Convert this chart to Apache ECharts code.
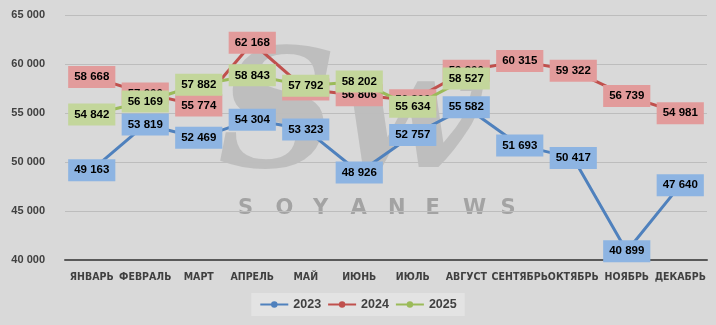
<!DOCTYPE html>
<html>
<head>
<meta charset="utf-8">
<script src="https://cdn.jsdelivr.net/npm/echarts@6/dist/echarts.min.js"></script>
<style>
html,body{margin:0;padding:0;background:#d9d9d9;}
#c{width:716px;height:325px;}
</style>
</head>
<body>
<div id="c"></div>
<script>
var months = ['ЯНВАРЬ','ФЕВРАЛЬ','МАРТ','АПРЕЛЬ','МАЙ','ИЮНЬ','ИЮЛЬ','АВГУСТ','СЕНТЯБРЬ','ОКТЯБРЬ','НОЯБРЬ','ДЕКАБРЬ'];
var y2023 = [49163, 53819, 52469, 54304, 53323, 48926, 52757, 55582, 51693, 50417, 40899, 47640];
var y2024 = [58668, 57000, 55774, 62168, 57400, 56806, 56300, 59300, 60315, 59322, 56739, 54981];
var y2025 = [54842, 56169, 57882, 58843, 57792, 58202, 55634, 58527, null, null, null, null];
var seriesNames = ['2023','2024','2025'];
var yTicks = {min: 40000, max: 65000, interval: 5000};
var watermarkLetters = ['S','O','Y','A','N','E','W','S'];

function fmt(v){ return String(v).replace(/\B(?=(\d{3})+(?!\d))/g,' '); }

var lineColors = ['#4f81bd','#c0504d','#9bbb59'];
var labelFills = ['#8db4e2','#e29b9b','#c3d69b'];
var datas = [y2023, y2024, y2025];

var chart = echarts.init(document.getElementById('c'), null, {renderer:'canvas'});
var series = datas.map(function(d,i){
  return {
    name: seriesNames[i],
    type: 'line',
    data: d,
    symbol: 'circle',
    symbolSize: 13,
    connectNulls: false,
    lineStyle: {color: lineColors[i], width: 3},
    itemStyle: {color: lineColors[i]},
    z: 2 + i,
    label: {
      show: true,
      position: 'inside',
      formatter: function(p){ return fmt(p.value); },
      backgroundColor: labelFills[i],
      padding: [5, 6, 5, 6],
      color: '#000',
      fontFamily: 'Liberation Sans',
      fontWeight: 'bold',
      fontSize: 11.5
    },
    emphasis: {disabled: true}
  };
});

var graphics = [
  {type:'text', left: 218, top: 42, z: 0, silent: true,
   style:{text:'Sw', fill:'rgba(150,150,150,0.4)', font:'italic bold 165px "DejaVu Serif"'}}
];
watermarkLetters.forEach(function(ch, i){
  graphics.push({type:'text', left: 238 + i*37.5, top: 198, z: 0, silent: true,
    style:{text: ch, fill:'#a3a3a3', font:'bold 21px "DejaVu Sans"'}});
});

chart.setOption({
  animation: false,
  backgroundColor: '#d9d9d9',
  graphic: graphics,
  grid: {left: 65, right: 9, top: 15, bottom: 65},
  legend: {
    data: seriesNames,
    top: 293,
    left: 'center',
    itemWidth: 28,
    itemHeight: 8,
    itemGap: 6,
    padding: [5, 8, 5, 8],
    backgroundColor: '#e3e3e3',
    textStyle: {color:'#404040', fontFamily:'Liberation Sans', fontWeight:'bold', fontSize: 12.5}
  },
  xAxis: {
    type: 'category',
    data: months,
    boundaryGap: true,
    axisLine: {lineStyle: {color:'#595959', width: 2}},
    axisTick: {show: false},
    axisLabel: {color:'#404040', fontFamily:'"DejaVu Sans Condensed", "Liberation Sans", sans-serif', fontWeight:'bold', fontSize: 10.5, margin: 12, interval: 0}
  },
  yAxis: {
    type: 'value',
    min: yTicks.min, max: yTicks.max, interval: yTicks.interval,
    axisLine: {show: false},
    axisTick: {show: false},
    splitLine: {lineStyle: {color:'#bdbdbd', width: 1}},
    axisLabel: {color:'#404040', fontFamily:'Liberation Sans', fontWeight:'bold', fontSize: 11, margin: 20,
      formatter: function(v){ return fmt(v); }}
  },
  series: series
});
</script>
</body>
</html>
